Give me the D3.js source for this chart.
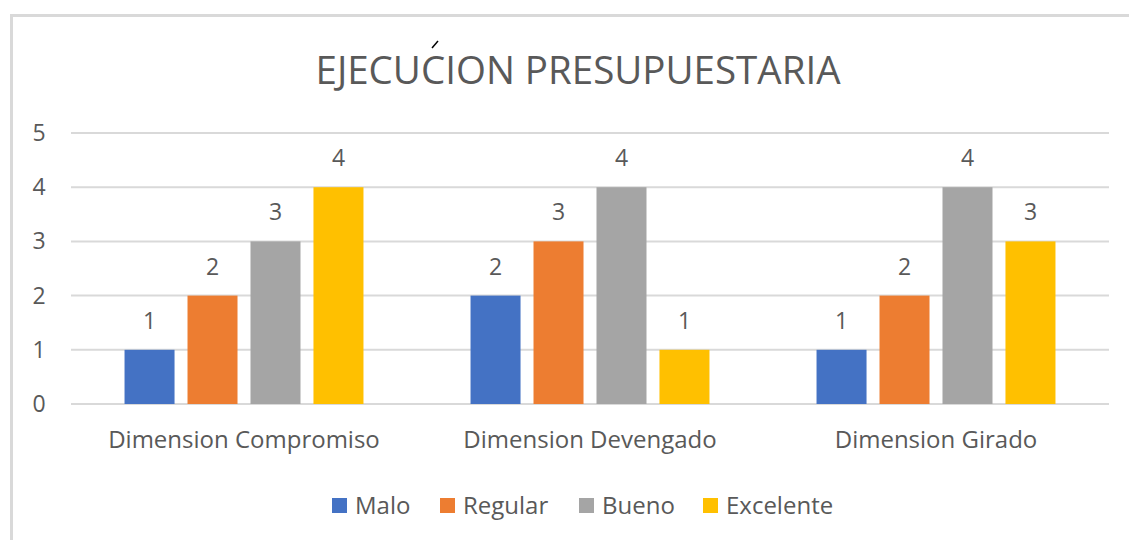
<!DOCTYPE html>
<html lang="es">
<head>
<meta charset="UTF-8">
<script src="https://d3js.org/d3.v7.min.js"></script>
<title>Ejecucion presupuestaria</title>
<style>
  body { margin: 0; background: #fff; }
  text { font-family: "Open Sans", sans-serif; fill: #595959; }
</style>
</head>
<body>
<script>
  // datos
  var categories = ["Dimension Compromiso", "Dimension Devengado", "Dimension Girado"];
  var seriesNames = ["Malo", "Regular", "Bueno", "Excelente"];
  var malo = [1, 2, 1];
  var regular = [2, 3, 2];
  var bueno = [3, 4, 4];
  var excelente = [4, 1, 3];
  var yTicks = [0, 1, 2, 3, 4, 5];
  var colors = ["#4472C4", "#ED7D31", "#A5A5A5", "#FFC000"];

  var seriesValues = [malo, regular, bueno, excelente];
  var rows = categories.map(function (c, i) {
    return { cat: c, vals: seriesNames.map(function (s, j) { return { name: s, v: seriesValues[j][i], k: j }; }) };
  });

  var W = 1129, H = 540;
  var svg = d3.select("body").append("svg").attr("width", W).attr("height", H);

  // marco
  svg.append("path")
    .attr("d", "M11.5," + H + "V15.5H" + W)
    .attr("fill", "none").attr("stroke", "#D9D9D9").attr("stroke-width", 3);

  var plotL = 71, plotR = 1109, plotT = 133, plotB = 404;

  var x0 = d3.scaleBand().domain(categories).range([plotL, plotR]).padding(0);
  var x1 = d3.scaleBand().domain(seriesNames).range([0, x0.bandwidth()])
    .paddingInner(0.206).paddingOuter(0.85);
  var y = d3.scaleLinear().domain([0, 5]).range([plotB, plotT]);

  // grid
  svg.append("g").selectAll("line").data(yTicks).join("line")
    .attr("x1", plotL).attr("x2", plotR)
    .attr("y1", function (d) { return y(d); }).attr("y2", function (d) { return y(d); })
    .attr("stroke", "#D9D9D9").attr("stroke-width", 2);

  svg.append("g").selectAll("text").data(yTicks).join("text")
    .attr("x", 39).attr("y", function (d) { return y(d) + 8; })
    .attr("text-anchor", "middle").attr("font-size", 23)
    .text(function (d) { return d; });

  // barras
  var g = svg.append("g").selectAll("g").data(rows).join("g")
    .attr("transform", function (d) { return "translate(" + x0(d.cat) + ",0)"; });

  g.selectAll("rect").data(function (d) { return d.vals; }).join("rect")
    .attr("x", function (d) { return x1(d.name); })
    .attr("width", x1.bandwidth())
    .attr("y", function (d) { return y(d.v); })
    .attr("height", function (d) { return y(0) - y(d.v); })
    .attr("fill", function (d) { return colors[d.k]; });

  g.selectAll("text").data(function (d) { return d.vals; }).join("text")
    .attr("x", function (d) { return x1(d.name) + x1.bandwidth() / 2; })
    .attr("y", function (d) { return y(d.v) - 21; })
    .attr("text-anchor", "middle").attr("font-size", 23)
    .text(function (d) { return d.v; });

  // etiquetas de categoria
  svg.append("g").selectAll("text").data(categories).join("text")
    .attr("x", function (d) { return x0(d) + x0.bandwidth() / 2; })
    .attr("y", 448)
    .attr("text-anchor", "middle").attr("font-size", 24)
    .text(function (d) { return d; });

  // titulo
  svg.append("text").attr("x", 578).attr("y", 84)
    .attr("text-anchor", "middle").attr("font-size", 38.5)
    .text("EJECUCION PRESUPUESTARIA");
  svg.append("line").attr("x1", 432).attr("y1", 48).attr("x2", 438).attr("y2", 41)
    .attr("stroke", "#000").attr("stroke-width", 1.5);

  // leyenda
  var legendX = [332, 440, 579, 703];
  var lg = svg.append("g").selectAll("g").data(seriesNames).join("g")
    .attr("transform", function (d, i) { return "translate(" + legendX[i] + ",498)"; });
  lg.append("rect").attr("width", 15).attr("height", 15)
    .attr("fill", function (d, i) { return colors[i]; });
  lg.append("text").attr("x", 23).attr("y", 16).attr("font-size", 24)
    .text(function (d) { return d; });
</script>
</body>
</html>
